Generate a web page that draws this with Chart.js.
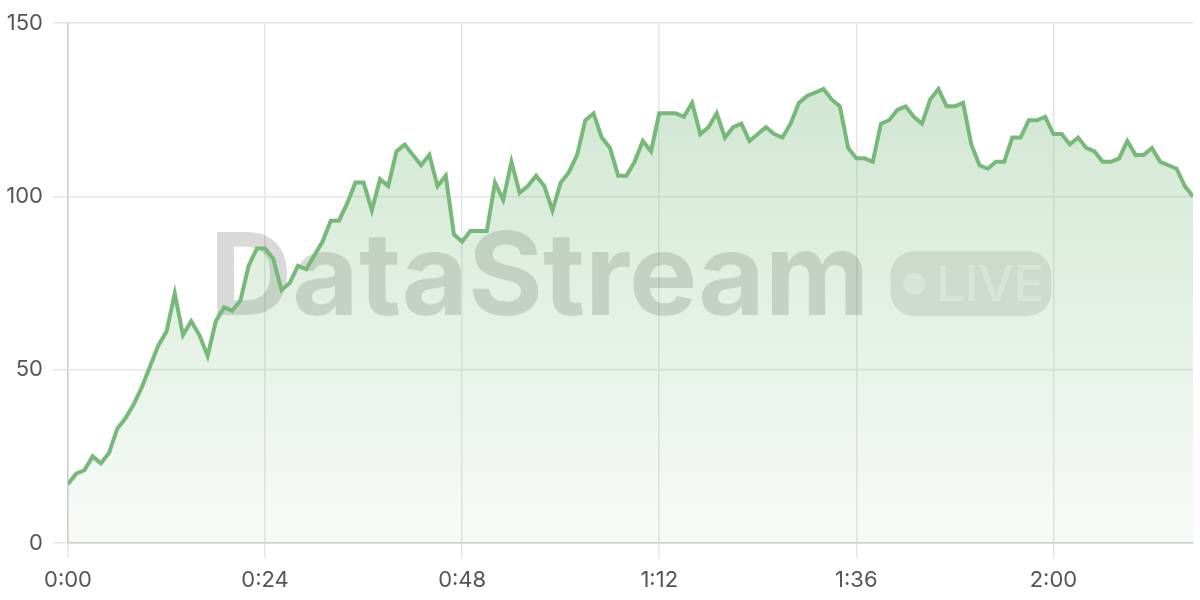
<!DOCTYPE html>
<html>
<head>
<meta charset="utf-8">
<script src="https://cdn.jsdelivr.net/npm/chart.js@4"></script>
<style>
  html, body { margin: 0; padding: 0; background: #fff; }
  #wrap { width: 1200px; height: 600px; }
</style>
</head>
<body>
<div id="wrap"><canvas id="streamChart" width="1200" height="600"></canvas></div>
<script>
// one sample per second, 0:00 .. 2:17
const values = [
  17, 20, 21, 25, 23, 26, 33, 36, 40, 45,
  51, 57, 61, 72, 60, 64, 60, 54, 64, 68,
  67, 70, 80, 85, 85, 82, 73, 75, 80, 79,
  83, 87, 93, 93, 98, 104, 104, 96, 105, 103,
  113, 115, 112, 109, 112, 103, 106, 89, 87, 90,
  90, 90, 104, 99, 110, 101, 103, 106, 103, 96,
  104, 107, 112, 122, 124, 117, 114, 106, 106, 110,
  116, 113, 124, 124, 124, 123, 127, 118, 120, 124,
  117, 120, 121, 116, 118, 120, 118, 117, 121, 127,
  129, 130, 131, 128, 126, 114, 111, 111, 110, 121,
  122, 125, 126, 123, 121, 128, 131, 126, 126, 127,
  115, 109, 108, 110, 110, 117, 117, 122, 122, 123,
  118, 118, 115, 117, 114, 113, 110, 110, 111, 116,
  112, 112, 114, 110, 109, 108, 103, 100
];
const seconds = values.map((_, i) => i);

const xTickValues = [0, 24, 48, 72, 96, 120];
const xTickLabels = ['0:00', '0:24', '0:48', '1:12', '1:36', '2:00'];
const yTickValues = [0, 50, 100, 150];

const lineColor = 'rgb(118, 185, 121)';

const watermark = {
  id: 'watermark',
  beforeDatasetsDraw(chart) {
    const { ctx, chartArea } = chart;
    const cx = (chartArea.left + chartArea.right) / 2;
    const base = chartArea.top + 292;
    ctx.save();
    // "DataStream" word
    ctx.font = 'bold 116px Inter, "Liberation Sans", sans-serif';
    ctx.textBaseline = 'alphabetic';
    let w = ctx.measureText('DataStream').width;
    const targetW = 660;
    const size = 116 * targetW / w;
    ctx.font = 'bold ' + size + 'px Inter, "Liberation Sans", sans-serif';
    w = ctx.measureText('DataStream').width;
    const pillW = 161, pillH = 65, gap = 21;
    const left = cx - (w + gap + pillW) / 2;
    ctx.fillStyle = 'rgba(0, 0, 0, 0.15)';
    ctx.fillText('DataStream', left, base);
    // LIVE pill
    const px = left + w + gap, py = base - pillH + 1;
    ctx.fillStyle = 'rgba(0, 0, 0, 0.1)';
    ctx.beginPath();
    ctx.roundRect(px, py, pillW, pillH, 24);
    ctx.fill();
    ctx.fillStyle = 'rgba(255, 255, 255, 0.45)';
    ctx.beginPath();
    ctx.arc(px + 24, py + pillH / 2, 11, 0, Math.PI * 2);
    ctx.fill();
    ctx.font = '500 50px Inter, "Liberation Sans", sans-serif';
    ctx.textBaseline = 'middle';
    ctx.fillText('LIVE', px + 46, py + pillH / 2 + 2);
    ctx.restore();
  }
};

const ctx = document.getElementById('streamChart').getContext('2d');
new Chart(ctx, {
  type: 'line',
  data: {
    datasets: [{
      data: seconds.map((s, i) => ({ x: s, y: values[i] })),
      borderColor: lineColor,
      borderWidth: 4,
      pointRadius: 0,
      tension: 0,
      fill: 'origin',
      backgroundColor: (c) => {
        const area = c.chart.chartArea;
        if (!area) return 'rgba(118,185,121,0.2)';
        const g = c.chart.ctx.createLinearGradient(0, area.top, 0, area.bottom);
        g.addColorStop(0, 'rgba(118, 185, 121, 0.38)');
        g.addColorStop(1, 'rgba(118, 185, 121, 0.06)');
        return g;
      }
    }]
  },
  options: {
    responsive: false,
    animation: false,
    layout: { padding: { top: 20, right: 7, left: 0, bottom: 0 } },
    plugins: { legend: { display: false }, tooltip: { enabled: false } },
    scales: {
      x: {
        type: 'linear',
        min: 0,
        max: seconds[seconds.length - 1],
        afterBuildTicks: (s) => { s.ticks = xTickValues.map(v => ({ value: v })); },
        afterFit: (s) => { s.height = 57; },
        grid: { color: '#e6e6e6', tickLength: 15, lineWidth: 1.5 },
        border: { color: '#cfcfcf', width: 1.5 },
        ticks: {
          padding: 9,
          color: '#555',
          font: { family: 'Inter, "Liberation Sans", sans-serif', size: 22 },
          maxRotation: 0,
          callback: (v) => xTickLabels[xTickValues.indexOf(v)]
        }
      },
      y: {
        min: 0,
        max: 150,
        afterBuildTicks: (s) => { s.ticks = yTickValues.map(v => ({ value: v })); },
        afterFit: (s) => { s.width = 68; },
        grid: { color: '#e6e6e6', tickLength: 15, lineWidth: 1.5 },
        border: { color: '#cfcfcf', width: 1.5 },
        ticks: {
          padding: 10,
          color: '#555',
          font: { family: 'Inter, "Liberation Sans", sans-serif', size: 22 }
        }
      }
    }
  },
  plugins: [watermark]
});
</script>
</body>
</html>
